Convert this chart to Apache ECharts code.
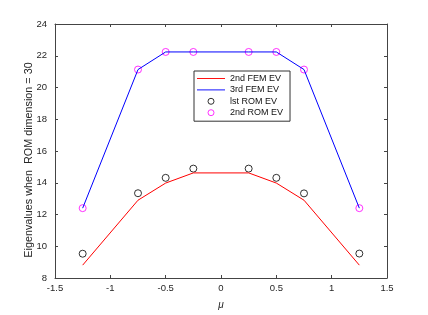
<!DOCTYPE html>
<html>
<head>
<meta charset="utf-8">
<script src="https://cdn.jsdelivr.net/npm/echarts@6/dist/echarts.min.js"></script>
<style>html,body{margin:0;padding:0;background:#fff;}#c{width:428px;height:315px;}</style>
</head>
<body>
<div id="c"></div>
<script>
const mu = [-1.25, -0.75, -0.5, -0.25, 0.25, 0.5, 0.75, 1.25];
const fem2 = [8.81, 12.90, 13.98, 14.62, 14.62, 13.98, 12.90, 8.81];
const fem3 = [12.40, 21.13, 22.24, 22.24, 22.24, 22.24, 21.13, 12.40];
const rom1 = [9.53, 13.34, 14.31, 14.89, 14.89, 14.31, 13.33, 9.54];
const rom2 = [12.40, 21.13, 22.24, 22.24, 22.24, 22.24, 21.13, 12.40];
const seriesNames = ['2nd FEM EV', '3rd FEM EV', 'lst ROM EV', '2nd ROM EV'];
const yName = 'Eigenvalues when  ROM dimension = 30';
const xName = 'μ';

const pairs = arr => mu.map((m, i) => [m, arr[i]]);
const axisColor = '#444';
const font = 'Liberation Sans, Arial, sans-serif';
const lineIcon = 'path://M0,0 L30,0 L30,1 L0,1 Z';
const chart = echarts.init(document.getElementById('c'), null, {renderer: 'canvas'});
const baseAxis = {
  axisLine: {show: true, onZero: false, lineStyle: {color: axisColor, width: 1}},
  axisTick: {show: true, inside: true, length: 3, lineStyle: {color: axisColor, width: 1}},
  splitLine: {show: false},
};
chart.setOption({
  animation: false,
  backgroundColor: '#fff',
  grid: {left: 55, right: 41, top: 24, bottom: 35},
  xAxis: [
    Object.assign({}, baseAxis, {
      type: 'value', min: -1.5, max: 1.5, interval: 0.5, position: 'bottom',
      axisLabel: {color: '#262626', fontSize: 9.5, fontFamily: font, margin: 5},
      name: xName, nameLocation: 'middle', nameGap: 22, nameMoveOverlap: false,
      nameTextStyle: {color: '#262626', fontSize: 10, fontStyle: 'italic', fontFamily: font}
    }),
    Object.assign({}, baseAxis, {
      type: 'value', min: -1.5, max: 1.5, interval: 0.5, position: 'top',
      axisLabel: {show: false}
    })
  ],
  yAxis: [
    Object.assign({}, baseAxis, {
      type: 'value', min: 8, max: 24, interval: 2, position: 'left',
      axisLabel: {color: '#262626', fontSize: 9.5, fontFamily: font, margin: 8},
      name: yName, nameLocation: 'middle', nameGap: 26, nameMoveOverlap: false,
      nameTextStyle: {color: '#262626', fontSize: 10.8, fontFamily: font, verticalAlign: 'middle', padding: [0, 18, 0, 0]}
    }),
    Object.assign({}, baseAxis, {
      type: 'value', min: 8, max: 24, interval: 2, position: 'right',
      axisLabel: {show: false}
    })
  ],
  legend: {
    orient: 'vertical', left: 194, top: 71,
    backgroundColor: '#fff', borderColor: '#333', borderWidth: 1,
    padding: [3, 7, 4, 3],
    itemWidth: 28, itemHeight: 6, itemGap: 2.4,
    textStyle: {fontSize: 9, fontFamily: font, color: '#111', lineHeight: 8},
    data: [
      {name: seriesNames[0], icon: lineIcon, itemStyle: {color: '#ff0000'}},
      {name: seriesNames[1], icon: lineIcon, itemStyle: {color: '#0000ff'}},
      {name: seriesNames[2], itemStyle: {color: 'rgba(0,0,0,0)', borderColor: '#000', borderWidth: 1}},
      {name: seriesNames[3], itemStyle: {color: 'rgba(0,0,0,0)', borderColor: '#ff00ff', borderWidth: 1}}
    ]
  },
  series: [
    {name: seriesNames[0], type: 'line', data: pairs(fem2), symbol: 'none',
     lineStyle: {color: '#ff0000', width: 1}, itemStyle: {color: '#ff0000'}},
    {name: seriesNames[1], type: 'line', data: pairs(fem3), symbol: 'none',
     lineStyle: {color: '#0000ff', width: 1}, itemStyle: {color: '#0000ff'}},
    {name: seriesNames[2], type: 'scatter', data: pairs(rom1), symbol: 'circle', symbolSize: 7,
     itemStyle: {color: 'rgba(0,0,0,0)', borderColor: '#000', borderWidth: 1}},
    {name: seriesNames[3], type: 'scatter', data: pairs(rom2), symbol: 'circle', symbolSize: 7,
     itemStyle: {color: 'rgba(0,0,0,0)', borderColor: '#ff00ff', borderWidth: 1}}
  ]
});
</script>
</body>
</html>
